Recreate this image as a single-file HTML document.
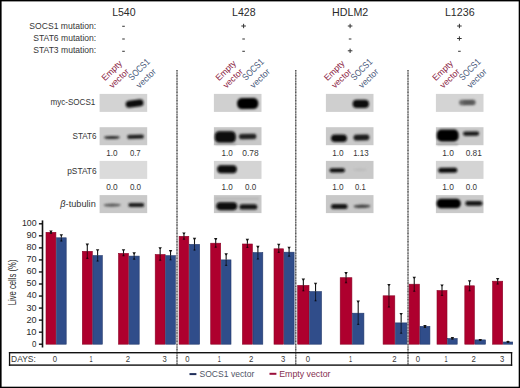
<!DOCTYPE html>
<html><head><meta charset="utf-8"><style>
html,body{margin:0;padding:0;background:#fff;}
svg{display:block;font-family:"Liberation Sans", sans-serif;}
</style></head><body>
<svg width="520" height="388" viewBox="0 0 520 388">
<defs><filter id="bl" filterUnits="userSpaceOnUse" x="0" y="0" width="520" height="388"><feGaussianBlur stdDeviation="0.8"/></filter></defs>
<text x="112.16" y="15.59" font-size="10.85" fill="#2a2a2a" textLength="23.41" lengthAdjust="spacingAndGlyphs">L540</text>
<text x="232.05" y="15.59" font-size="10.85" fill="#2a2a2a" textLength="23.52" lengthAdjust="spacingAndGlyphs">L428</text>
<text x="332.05" y="15.70" font-size="10.86" fill="#2a2a2a" textLength="36.18" lengthAdjust="spacingAndGlyphs">HDLM2</text>
<text x="444.95" y="15.69" font-size="10.70" fill="#2a2a2a" textLength="29.69" lengthAdjust="spacingAndGlyphs">L1236</text>
<text x="29.37" y="28.81" font-size="8.65" fill="#363636" textLength="66.81" lengthAdjust="spacingAndGlyphs">SOCS1 mutation:</text>
<text x="33.27" y="41.01" font-size="8.51" fill="#363636" textLength="62.94" lengthAdjust="spacingAndGlyphs">STAT6 mutation:</text>
<text x="33.27" y="53.11" font-size="8.51" fill="#363636" textLength="62.94" lengthAdjust="spacingAndGlyphs">STAT3 mutation:</text>
<text x="50.43" y="105.26" font-size="9.23" fill="#363636" textLength="44.94" lengthAdjust="spacingAndGlyphs">myc-SOCS1</text>
<text x="72.49" y="139.01" font-size="8.87" fill="#363636" textLength="24.06" lengthAdjust="spacingAndGlyphs">STAT6</text>
<text x="67.22" y="173.54" font-size="9.34" fill="#363636" textLength="29.40" lengthAdjust="spacingAndGlyphs">pSTAT6</text>
<text x="60.38" y="206.77" font-size="8.72" fill="#363636" textLength="35.38" lengthAdjust="spacingAndGlyphs"><tspan font-style="italic">β</tspan>-tubulin</text>
<text x="106.15" y="155.71" font-size="8.73" fill="#363636" textLength="11.27" lengthAdjust="spacingAndGlyphs">1.0</text>
<text x="129.89" y="155.71" font-size="8.73" fill="#363636" textLength="10.80" lengthAdjust="spacingAndGlyphs">0.7</text>
<text x="221.55" y="155.71" font-size="8.73" fill="#363636" textLength="11.27" lengthAdjust="spacingAndGlyphs">1.0</text>
<text x="242.26" y="155.71" font-size="8.73" fill="#363636" textLength="16.32" lengthAdjust="spacingAndGlyphs">0.78</text>
<text x="332.14" y="155.71" font-size="8.73" fill="#363636" textLength="11.49" lengthAdjust="spacingAndGlyphs">1.0</text>
<text x="353.17" y="155.71" font-size="8.73" fill="#363636" textLength="15.40" lengthAdjust="spacingAndGlyphs">1.13</text>
<text x="442.13" y="155.71" font-size="8.73" fill="#363636" textLength="11.71" lengthAdjust="spacingAndGlyphs">1.0</text>
<text x="465.67" y="155.71" font-size="8.73" fill="#363636" textLength="16.12" lengthAdjust="spacingAndGlyphs">0.81</text>
<text x="106.17" y="189.81" font-size="8.87" fill="#363636" textLength="11.57" lengthAdjust="spacingAndGlyphs">0.0</text>
<text x="129.88" y="189.81" font-size="8.87" fill="#363636" textLength="11.25" lengthAdjust="spacingAndGlyphs">0.0</text>
<text x="221.55" y="189.81" font-size="8.87" fill="#363636" textLength="11.27" lengthAdjust="spacingAndGlyphs">1.0</text>
<text x="245.08" y="189.81" font-size="8.87" fill="#363636" textLength="11.25" lengthAdjust="spacingAndGlyphs">0.0</text>
<text x="332.14" y="189.81" font-size="8.87" fill="#363636" textLength="11.49" lengthAdjust="spacingAndGlyphs">1.0</text>
<text x="355.09" y="189.81" font-size="8.87" fill="#363636" textLength="10.69" lengthAdjust="spacingAndGlyphs">0.1</text>
<text x="442.13" y="189.81" font-size="8.87" fill="#363636" textLength="11.71" lengthAdjust="spacingAndGlyphs">1.0</text>
<text x="465.68" y="189.81" font-size="8.87" fill="#363636" textLength="11.25" lengthAdjust="spacingAndGlyphs">0.0</text>
<text x="32.08" y="346.65" font-size="9.65" fill="#2a2a2a" textLength="4.40" lengthAdjust="spacingAndGlyphs">0</text>
<text x="26.15" y="334.61" font-size="9.65" fill="#2a2a2a" textLength="10.45" lengthAdjust="spacingAndGlyphs">10</text>
<text x="26.44" y="322.57" font-size="9.65" fill="#2a2a2a" textLength="10.14" lengthAdjust="spacingAndGlyphs">20</text>
<text x="26.54" y="310.53" font-size="9.65" fill="#2a2a2a" textLength="10.04" lengthAdjust="spacingAndGlyphs">30</text>
<text x="26.72" y="298.49" font-size="9.65" fill="#2a2a2a" textLength="9.85" lengthAdjust="spacingAndGlyphs">40</text>
<text x="26.54" y="286.45" font-size="9.65" fill="#2a2a2a" textLength="10.04" lengthAdjust="spacingAndGlyphs">50</text>
<text x="26.44" y="274.41" font-size="9.65" fill="#2a2a2a" textLength="10.14" lengthAdjust="spacingAndGlyphs">60</text>
<text x="26.44" y="262.37" font-size="9.65" fill="#2a2a2a" textLength="10.14" lengthAdjust="spacingAndGlyphs">70</text>
<text x="26.54" y="250.33" font-size="9.65" fill="#2a2a2a" textLength="10.04" lengthAdjust="spacingAndGlyphs">80</text>
<text x="26.44" y="238.29" font-size="9.65" fill="#2a2a2a" textLength="10.14" lengthAdjust="spacingAndGlyphs">90</text>
<text x="21.90" y="226.25" font-size="9.65" fill="#2a2a2a" textLength="14.64" lengthAdjust="spacingAndGlyphs">100</text>
<text x="11.12" y="361.71" font-size="8.87" fill="#363636" textLength="24.71" lengthAdjust="spacingAndGlyphs">DAYS:</text>
<text x="52.84" y="361.61" font-size="9.30" fill="#363636" textLength="4.29" lengthAdjust="spacingAndGlyphs">0</text>
<text x="89.60" y="361.70" font-size="9.57" fill="#363636" textLength="3.10" lengthAdjust="spacingAndGlyphs">1</text>
<text x="125.81" y="361.70" font-size="9.43" fill="#363636" textLength="4.35" lengthAdjust="spacingAndGlyphs">2</text>
<text x="162.39" y="361.61" font-size="9.30" fill="#363636" textLength="4.26" lengthAdjust="spacingAndGlyphs">3</text>
<text x="185.34" y="361.61" font-size="9.30" fill="#363636" textLength="4.29" lengthAdjust="spacingAndGlyphs">0</text>
<text x="217.85" y="361.70" font-size="9.57" fill="#363636" textLength="3.10" lengthAdjust="spacingAndGlyphs">1</text>
<text x="249.06" y="361.70" font-size="9.43" fill="#363636" textLength="4.35" lengthAdjust="spacingAndGlyphs">2</text>
<text x="280.89" y="361.61" font-size="9.30" fill="#363636" textLength="4.26" lengthAdjust="spacingAndGlyphs">3</text>
<text x="305.84" y="361.61" font-size="9.30" fill="#363636" textLength="4.29" lengthAdjust="spacingAndGlyphs">0</text>
<text x="349.10" y="361.70" font-size="9.57" fill="#363636" textLength="3.10" lengthAdjust="spacingAndGlyphs">1</text>
<text x="392.31" y="361.70" font-size="9.43" fill="#363636" textLength="4.35" lengthAdjust="spacingAndGlyphs">2</text>
<text x="415.64" y="361.61" font-size="9.30" fill="#363636" textLength="4.29" lengthAdjust="spacingAndGlyphs">0</text>
<text x="444.55" y="361.70" font-size="9.57" fill="#363636" textLength="3.10" lengthAdjust="spacingAndGlyphs">1</text>
<text x="471.61" y="361.70" font-size="9.43" fill="#363636" textLength="4.35" lengthAdjust="spacingAndGlyphs">2</text>
<text x="499.89" y="361.61" font-size="9.30" fill="#363636" textLength="4.26" lengthAdjust="spacingAndGlyphs">3</text>
<text x="199.47" y="377.01" font-size="8.87" fill="#4f5566" textLength="54.81" lengthAdjust="spacingAndGlyphs">SOCS1 vector</text>
<text x="279.20" y="377.24" font-size="9.33" fill="#86304f" textLength="51.34" lengthAdjust="spacingAndGlyphs">Empty vector</text>
<line x1="122.20" y1="26.30" x2="124.80" y2="26.30" stroke="#444" stroke-width="1.1" />
<line x1="122.20" y1="39.00" x2="124.80" y2="39.00" stroke="#444" stroke-width="1.1" />
<line x1="122.20" y1="51.30" x2="124.80" y2="51.30" stroke="#444" stroke-width="1.1" />
<line x1="241.30" y1="26.00" x2="245.90" y2="26.00" stroke="#333" stroke-width="1.0" />
<line x1="243.60" y1="23.80" x2="243.60" y2="28.20" stroke="#333" stroke-width="1.0" />
<line x1="242.30" y1="39.00" x2="244.90" y2="39.00" stroke="#444" stroke-width="1.1" />
<line x1="242.30" y1="51.30" x2="244.90" y2="51.30" stroke="#444" stroke-width="1.1" />
<line x1="347.80" y1="26.00" x2="352.40" y2="26.00" stroke="#333" stroke-width="1.0" />
<line x1="350.10" y1="23.80" x2="350.10" y2="28.20" stroke="#333" stroke-width="1.0" />
<line x1="348.80" y1="39.00" x2="351.40" y2="39.00" stroke="#444" stroke-width="1.1" />
<line x1="347.80" y1="50.80" x2="352.40" y2="50.80" stroke="#333" stroke-width="1.0" />
<line x1="350.10" y1="48.60" x2="350.10" y2="53.00" stroke="#333" stroke-width="1.0" />
<line x1="457.10" y1="26.00" x2="461.70" y2="26.00" stroke="#333" stroke-width="1.0" />
<line x1="459.40" y1="23.80" x2="459.40" y2="28.20" stroke="#333" stroke-width="1.0" />
<line x1="457.10" y1="38.50" x2="461.70" y2="38.50" stroke="#333" stroke-width="1.0" />
<line x1="459.40" y1="36.30" x2="459.40" y2="40.70" stroke="#333" stroke-width="1.0" />
<line x1="458.10" y1="51.30" x2="460.70" y2="51.30" stroke="#444" stroke-width="1.1" />
<text x="0" y="0" font-size="10.53" fill="#2a2a2a" transform="translate(16.29,305.32) rotate(-90)" textLength="45.82" lengthAdjust="spacingAndGlyphs">Live cells (%)</text>
<text x="0" y="0" font-size="8.7" fill="#8a1c42" transform="translate(105.00,81.15) rotate(-44)" textLength="24.62" lengthAdjust="spacingAndGlyphs">Empty</text>
<text x="0" y="0" font-size="8.7" fill="#8a1c42" transform="translate(112.50,88.75) rotate(-44)" textLength="23.67" lengthAdjust="spacingAndGlyphs">vector</text>
<text x="0" y="0" font-size="9.4" fill="#485779" transform="translate(132.00,80.95) rotate(-45)" textLength="26.07" lengthAdjust="spacingAndGlyphs">SOCS1</text>
<text x="0" y="0" font-size="8.7" fill="#485779" transform="translate(139.60,88.75) rotate(-44)" textLength="23.67" lengthAdjust="spacingAndGlyphs">vector</text>
<text x="0" y="0" font-size="8.7" fill="#8a1c42" transform="translate(219.00,81.15) rotate(-44)" textLength="24.62" lengthAdjust="spacingAndGlyphs">Empty</text>
<text x="0" y="0" font-size="8.7" fill="#8a1c42" transform="translate(226.50,88.75) rotate(-44)" textLength="23.67" lengthAdjust="spacingAndGlyphs">vector</text>
<text x="0" y="0" font-size="9.4" fill="#485779" transform="translate(246.00,80.95) rotate(-45)" textLength="26.07" lengthAdjust="spacingAndGlyphs">SOCS1</text>
<text x="0" y="0" font-size="8.7" fill="#485779" transform="translate(253.60,88.75) rotate(-44)" textLength="23.67" lengthAdjust="spacingAndGlyphs">vector</text>
<text x="0" y="0" font-size="8.7" fill="#8a1c42" transform="translate(327.50,81.15) rotate(-44)" textLength="24.62" lengthAdjust="spacingAndGlyphs">Empty</text>
<text x="0" y="0" font-size="8.7" fill="#8a1c42" transform="translate(335.00,88.75) rotate(-44)" textLength="23.67" lengthAdjust="spacingAndGlyphs">vector</text>
<text x="0" y="0" font-size="9.4" fill="#485779" transform="translate(354.50,80.95) rotate(-45)" textLength="26.07" lengthAdjust="spacingAndGlyphs">SOCS1</text>
<text x="0" y="0" font-size="8.7" fill="#485779" transform="translate(362.10,88.75) rotate(-44)" textLength="23.67" lengthAdjust="spacingAndGlyphs">vector</text>
<text x="0" y="0" font-size="8.7" fill="#8a1c42" transform="translate(435.80,81.15) rotate(-44)" textLength="24.62" lengthAdjust="spacingAndGlyphs">Empty</text>
<text x="0" y="0" font-size="8.7" fill="#8a1c42" transform="translate(443.30,88.75) rotate(-44)" textLength="23.67" lengthAdjust="spacingAndGlyphs">vector</text>
<text x="0" y="0" font-size="9.4" fill="#485779" transform="translate(462.80,80.95) rotate(-45)" textLength="26.07" lengthAdjust="spacingAndGlyphs">SOCS1</text>
<text x="0" y="0" font-size="8.7" fill="#485779" transform="translate(470.40,88.75) rotate(-44)" textLength="23.67" lengthAdjust="spacingAndGlyphs">vector</text>
<line x1="177.00" y1="70.00" x2="177.00" y2="365.00" stroke="#7a7a7a" stroke-width="1" />
<line x1="177.00" y1="70.00" x2="177.00" y2="365.00" stroke="#3a3a3a" stroke-width="1" stroke-dasharray="1.2 1.6 0.8 1.3 1.5 1.9"/>
<line x1="295.80" y1="70.00" x2="295.80" y2="365.00" stroke="#7a7a7a" stroke-width="1" />
<line x1="295.80" y1="70.00" x2="295.80" y2="365.00" stroke="#3a3a3a" stroke-width="1" stroke-dasharray="1.2 1.6 0.8 1.3 1.5 1.9"/>
<line x1="408.00" y1="70.00" x2="408.00" y2="365.00" stroke="#7a7a7a" stroke-width="1" />
<line x1="408.00" y1="70.00" x2="408.00" y2="365.00" stroke="#3a3a3a" stroke-width="1" stroke-dasharray="1.2 1.6 0.8 1.3 1.5 1.9"/>
<rect x="99.60" y="93.90" width="47.60" height="18.00" fill="#d3d3d3" />
<rect x="99.60" y="127.20" width="47.60" height="18.00" fill="#cbcbcb" />
<rect x="99.60" y="160.90" width="47.60" height="18.00" fill="#dbdbdb" />
<rect x="99.60" y="195.10" width="47.60" height="18.00" fill="#c9c9c9" />
<rect x="213.90" y="93.90" width="47.60" height="18.00" fill="#d0d0d0" />
<rect x="213.90" y="127.20" width="47.60" height="18.00" fill="#c8c8c8" />
<rect x="213.90" y="160.90" width="47.60" height="18.00" fill="#d4d4d4" />
<rect x="213.90" y="195.10" width="47.60" height="18.00" fill="#c8c8c8" />
<rect x="325.90" y="93.90" width="47.60" height="18.00" fill="#cfcfcf" />
<rect x="325.90" y="127.20" width="47.60" height="18.00" fill="#cacaca" />
<rect x="325.90" y="160.90" width="47.60" height="18.00" fill="#c8c8c8" />
<rect x="325.90" y="195.10" width="47.60" height="18.00" fill="#c8c8c8" />
<rect x="435.90" y="93.90" width="47.60" height="18.00" fill="#d4d4d4" />
<rect x="435.90" y="127.20" width="47.60" height="18.00" fill="#cbcbcb" />
<rect x="435.90" y="160.90" width="47.60" height="18.00" fill="#d4d4d4" />
<rect x="435.90" y="195.10" width="47.60" height="18.00" fill="#cacaca" />
<rect x="125.60" y="100.10" width="18.00" height="7.00" rx="3.50" fill="#101010" transform="rotate(-7.59 134.60 103.60)" filter="url(#bl)"/>
<ellipse cx="111.95" cy="137.50" rx="7.95" ry="1.60" fill="#2a2a2a" transform="rotate(-0.72 111.95 137.50)" filter="url(#bl)"/>
<rect x="127.20" y="134.85" width="16.70" height="3.80" rx="1.90" fill="#1e1e1e" transform="rotate(-1.71 135.55 136.75)" filter="url(#bl)"/>
<ellipse cx="112.20" cy="205.10" rx="8.80" ry="1.60" fill="#5a5a5a" transform="rotate(-0.65 112.20 205.10)" filter="url(#bl)"/>
<rect x="128.30" y="203.00" width="15.90" height="4.00" rx="2.00" fill="#1e1e1e" transform="rotate(0.00 136.25 205.00)" filter="url(#bl)"/>
<rect x="237.10" y="98.10" width="21.20" height="11.00" rx="5.00" fill="#060606" transform="rotate(-0.54 247.70 103.60)" filter="url(#bl)"/>
<rect x="214.80" y="131.25" width="21.00" height="11.50" rx="4.50" fill="#070707" transform="rotate(0.00 225.30 137.00)" filter="url(#bl)"/>
<rect x="238.90" y="133.75" width="17.50" height="5.40" rx="2.70" fill="#222" transform="rotate(-0.98 247.65 136.45)" filter="url(#bl)"/>
<rect x="215.00" y="143.60" width="21.00" height="1.20" rx="0.00" fill="#999" transform="rotate(0.00 225.50 144.20)" filter="url(#bl)"/>
<rect x="217.20" y="165.35" width="19.60" height="7.80" rx="3.60" fill="#080808" transform="rotate(0.29 227.00 169.25)" filter="url(#bl)"/>
<rect x="216.30" y="202.25" width="20.90" height="7.90" rx="3.80" fill="#080808" transform="rotate(0.00 226.75 206.20)" filter="url(#bl)"/>
<rect x="239.50" y="204.30" width="17.80" height="5.20" rx="2.60" fill="#151515" transform="rotate(0.00 248.40 206.90)" filter="url(#bl)"/>
<rect x="215.00" y="197.70" width="44.00" height="2.00" rx="0.00" fill="#b4b4b4" transform="rotate(0.00 237.00 198.70)" filter="url(#bl)"/>
<rect x="352.60" y="99.80" width="16.40" height="8.20" rx="4.10" fill="#0e0e0e" transform="rotate(0.00 360.80 103.90)" filter="url(#bl)"/>
<rect x="331.00" y="134.40" width="16.00" height="7.60" rx="3.80" fill="#101010" transform="rotate(0.00 339.00 138.20)" filter="url(#bl)"/>
<rect x="353.50" y="134.40" width="15.90" height="6.00" rx="3.00" fill="#1e1e1e" transform="rotate(-1.44 361.45 137.40)" filter="url(#bl)"/>
<rect x="329.50" y="168.20" width="15.50" height="4.30" rx="2.15" fill="#0e0e0e" transform="rotate(-0.37 337.25 170.35)" filter="url(#bl)"/>
<ellipse cx="359.95" cy="169.70" rx="6.95" ry="1.50" fill="#bcbcbc" transform="rotate(0.00 359.95 169.70)" filter="url(#bl)"/>
<rect x="331.00" y="204.10" width="16.60" height="5.00" rx="2.50" fill="#141414" transform="rotate(0.00 339.30 206.60)" filter="url(#bl)"/>
<ellipse cx="362.00" cy="206.30" rx="8.50" ry="1.80" fill="#444" transform="rotate(-1.35 362.00 206.30)" filter="url(#bl)"/>
<rect x="459.10" y="99.80" width="16.60" height="5.40" rx="2.70" fill="#6a6a6a" transform="rotate(-0.69 467.40 102.50)" filter="url(#bl)"/>
<rect x="463.00" y="101.00" width="11.00" height="3.00" rx="1.50" fill="#555" transform="rotate(-1.04 468.50 102.50)" filter="url(#bl)"/>
<rect x="436.80" y="129.60" width="21.80" height="11.80" rx="4.50" fill="#060606" transform="rotate(0.00 447.70 135.50)" filter="url(#bl)"/>
<rect x="437.00" y="143.75" width="21.00" height="1.30" rx="0.00" fill="#8a8a8a" transform="rotate(0.00 447.50 144.40)" filter="url(#bl)"/>
<rect x="463.00" y="131.50" width="16.20" height="4.20" rx="2.10" fill="#151515" transform="rotate(-0.71 471.10 133.60)" filter="url(#bl)"/>
<rect x="438.20" y="167.70" width="19.10" height="5.00" rx="2.50" fill="#0c0c0c" transform="rotate(-0.60 447.75 170.20)" filter="url(#bl)"/>
<rect x="436.60" y="198.70" width="24.20" height="9.60" rx="4.50" fill="#060606" transform="rotate(0.00 448.70 203.50)" filter="url(#bl)"/>
<rect x="465.30" y="200.95" width="17.10" height="4.90" rx="2.45" fill="#121212" transform="rotate(0.00 473.85 203.40)" filter="url(#bl)"/>
<line x1="42.50" y1="220.40" x2="42.50" y2="347.50" stroke="#111" stroke-width="1.6" />
<line x1="38.90" y1="344.20" x2="42.50" y2="344.20" stroke="#111" stroke-width="1.4" />
<line x1="38.90" y1="332.16" x2="42.50" y2="332.16" stroke="#111" stroke-width="1.4" />
<line x1="38.90" y1="320.12" x2="42.50" y2="320.12" stroke="#111" stroke-width="1.4" />
<line x1="38.90" y1="308.08" x2="42.50" y2="308.08" stroke="#111" stroke-width="1.4" />
<line x1="38.90" y1="296.04" x2="42.50" y2="296.04" stroke="#111" stroke-width="1.4" />
<line x1="38.90" y1="284.00" x2="42.50" y2="284.00" stroke="#111" stroke-width="1.4" />
<line x1="38.90" y1="271.96" x2="42.50" y2="271.96" stroke="#111" stroke-width="1.4" />
<line x1="38.90" y1="259.92" x2="42.50" y2="259.92" stroke="#111" stroke-width="1.4" />
<line x1="38.90" y1="247.88" x2="42.50" y2="247.88" stroke="#111" stroke-width="1.4" />
<line x1="38.90" y1="235.84" x2="42.50" y2="235.84" stroke="#111" stroke-width="1.4" />
<line x1="38.90" y1="223.80" x2="42.50" y2="223.80" stroke="#111" stroke-width="1.4" />
<rect x="46.00" y="232.30" width="9.90" height="111.90" fill="#ae002e" stroke="#8a0427" stroke-width="0.6"/>
<rect x="56.50" y="237.80" width="9.70" height="106.40" fill="#304d8a" stroke="#22386a" stroke-width="0.6"/>
<rect x="82.30" y="251.30" width="10.00" height="92.90" fill="#ae002e" stroke="#8a0427" stroke-width="0.6"/>
<rect x="92.90" y="255.60" width="9.40" height="88.60" fill="#304d8a" stroke="#22386a" stroke-width="0.6"/>
<rect x="118.50" y="253.40" width="10.00" height="90.80" fill="#ae002e" stroke="#8a0427" stroke-width="0.6"/>
<rect x="129.10" y="256.10" width="10.10" height="88.10" fill="#304d8a" stroke="#22386a" stroke-width="0.6"/>
<rect x="155.20" y="254.50" width="9.90" height="89.70" fill="#ae002e" stroke="#8a0427" stroke-width="0.6"/>
<rect x="165.70" y="255.70" width="9.70" height="88.50" fill="#304d8a" stroke="#22386a" stroke-width="0.6"/>
<rect x="179.10" y="236.30" width="9.70" height="107.90" fill="#ae002e" stroke="#8a0427" stroke-width="0.6"/>
<rect x="189.40" y="244.40" width="10.20" height="99.80" fill="#304d8a" stroke="#22386a" stroke-width="0.6"/>
<rect x="210.70" y="243.20" width="10.00" height="101.00" fill="#ae002e" stroke="#8a0427" stroke-width="0.6"/>
<rect x="221.30" y="259.90" width="9.70" height="84.30" fill="#304d8a" stroke="#22386a" stroke-width="0.6"/>
<rect x="242.40" y="244.00" width="10.00" height="100.20" fill="#ae002e" stroke="#8a0427" stroke-width="0.6"/>
<rect x="253.00" y="252.60" width="9.80" height="91.60" fill="#304d8a" stroke="#22386a" stroke-width="0.6"/>
<rect x="274.00" y="248.80" width="9.50" height="95.40" fill="#ae002e" stroke="#8a0427" stroke-width="0.6"/>
<rect x="284.10" y="252.20" width="10.00" height="92.00" fill="#304d8a" stroke="#22386a" stroke-width="0.6"/>
<rect x="297.70" y="285.40" width="11.30" height="58.80" fill="#ae002e" stroke="#8a0427" stroke-width="0.6"/>
<rect x="309.60" y="291.60" width="11.90" height="52.60" fill="#304d8a" stroke="#22386a" stroke-width="0.6"/>
<rect x="340.20" y="277.70" width="11.70" height="66.50" fill="#ae002e" stroke="#8a0427" stroke-width="0.6"/>
<rect x="352.50" y="313.20" width="11.40" height="31.00" fill="#304d8a" stroke="#22386a" stroke-width="0.6"/>
<rect x="383.10" y="295.80" width="11.70" height="48.40" fill="#ae002e" stroke="#8a0427" stroke-width="0.6"/>
<rect x="395.40" y="322.90" width="11.50" height="21.30" fill="#304d8a" stroke="#22386a" stroke-width="0.6"/>
<rect x="409.10" y="284.20" width="10.30" height="60.00" fill="#ae002e" stroke="#8a0427" stroke-width="0.6"/>
<rect x="420.00" y="326.40" width="9.90" height="17.80" fill="#304d8a" stroke="#22386a" stroke-width="0.6"/>
<rect x="437.00" y="290.50" width="10.00" height="53.70" fill="#ae002e" stroke="#8a0427" stroke-width="0.6"/>
<rect x="447.60" y="338.50" width="9.60" height="5.70" fill="#304d8a" stroke="#22386a" stroke-width="0.6"/>
<rect x="464.80" y="285.80" width="9.60" height="58.40" fill="#ae002e" stroke="#8a0427" stroke-width="0.6"/>
<rect x="475.00" y="339.90" width="10.50" height="4.30" fill="#304d8a" stroke="#22386a" stroke-width="0.6"/>
<rect x="492.60" y="281.20" width="10.10" height="63.00" fill="#ae002e" stroke="#8a0427" stroke-width="0.6"/>
<rect x="503.30" y="342.00" width="9.40" height="2.20" fill="#304d8a" stroke="#22386a" stroke-width="0.6"/>
<line x1="50.95" y1="231.40" x2="50.95" y2="232.00" stroke="#151515" stroke-width="1.1" />
<line x1="50.95" y1="232.00" x2="50.95" y2="233.70" stroke="rgba(0,0,0,0.6)" stroke-width="1.1" />
<polygon points="49.25,230.40 52.65,230.40 51.55,232.30 50.35,232.30" fill="#151515"/>
<polygon points="49.45,233.70 52.45,233.70 51.45,232.10 50.45,232.10" fill="#151515"/>
<line x1="61.35" y1="235.20" x2="61.35" y2="237.50" stroke="#151515" stroke-width="1.1" />
<line x1="61.35" y1="237.50" x2="61.35" y2="241.40" stroke="rgba(0,0,0,0.6)" stroke-width="1.1" />
<polygon points="59.65,234.20 63.05,234.20 61.95,236.10 60.75,236.10" fill="#151515"/>
<polygon points="59.85,241.40 62.85,241.40 61.85,239.80 60.85,239.80" fill="rgba(0,0,0,0.5)"/>
<line x1="87.30" y1="244.60" x2="87.30" y2="251.00" stroke="#151515" stroke-width="1.1" />
<line x1="87.30" y1="251.00" x2="87.30" y2="258.90" stroke="rgba(0,0,0,0.6)" stroke-width="1.1" />
<polygon points="85.60,243.60 89.00,243.60 87.90,245.50 86.70,245.50" fill="#151515"/>
<polygon points="85.80,258.90 88.80,258.90 87.80,257.30 86.80,257.30" fill="rgba(0,0,0,0.5)"/>
<line x1="97.60" y1="250.20" x2="97.60" y2="255.30" stroke="#151515" stroke-width="1.1" />
<line x1="97.60" y1="255.30" x2="97.60" y2="261.60" stroke="rgba(0,0,0,0.6)" stroke-width="1.1" />
<polygon points="95.90,249.20 99.30,249.20 98.20,251.10 97.00,251.10" fill="#151515"/>
<polygon points="96.10,261.60 99.10,261.60 98.10,260.00 97.10,260.00" fill="rgba(0,0,0,0.5)"/>
<line x1="123.50" y1="250.20" x2="123.50" y2="253.10" stroke="#151515" stroke-width="1.1" />
<line x1="123.50" y1="253.10" x2="123.50" y2="256.20" stroke="rgba(0,0,0,0.6)" stroke-width="1.1" />
<polygon points="121.80,249.20 125.20,249.20 124.10,251.10 122.90,251.10" fill="#151515"/>
<polygon points="122.00,256.20 125.00,256.20 124.00,254.60 123.00,254.60" fill="rgba(0,0,0,0.5)"/>
<line x1="134.15" y1="253.30" x2="134.15" y2="255.80" stroke="#151515" stroke-width="1.1" />
<line x1="134.15" y1="255.80" x2="134.15" y2="259.70" stroke="rgba(0,0,0,0.6)" stroke-width="1.1" />
<polygon points="132.45,252.30 135.85,252.30 134.75,254.20 133.55,254.20" fill="#151515"/>
<polygon points="132.65,259.70 135.65,259.70 134.65,258.10 133.65,258.10" fill="rgba(0,0,0,0.5)"/>
<line x1="160.15" y1="248.20" x2="160.15" y2="254.20" stroke="#151515" stroke-width="1.1" />
<line x1="160.15" y1="254.20" x2="160.15" y2="260.80" stroke="rgba(0,0,0,0.6)" stroke-width="1.1" />
<polygon points="158.45,247.20 161.85,247.20 160.75,249.10 159.55,249.10" fill="#151515"/>
<polygon points="158.65,260.80 161.65,260.80 160.65,259.20 159.65,259.20" fill="rgba(0,0,0,0.5)"/>
<line x1="170.55" y1="251.00" x2="170.55" y2="255.40" stroke="#151515" stroke-width="1.1" />
<line x1="170.55" y1="255.40" x2="170.55" y2="260.30" stroke="rgba(0,0,0,0.6)" stroke-width="1.1" />
<polygon points="168.85,250.00 172.25,250.00 171.15,251.90 169.95,251.90" fill="#151515"/>
<polygon points="169.05,260.30 172.05,260.30 171.05,258.70 170.05,258.70" fill="rgba(0,0,0,0.5)"/>
<line x1="183.95" y1="233.40" x2="183.95" y2="236.00" stroke="#151515" stroke-width="1.1" />
<line x1="183.95" y1="236.00" x2="183.95" y2="239.80" stroke="rgba(0,0,0,0.6)" stroke-width="1.1" />
<polygon points="182.25,232.40 185.65,232.40 184.55,234.30 183.35,234.30" fill="#151515"/>
<polygon points="182.45,239.80 185.45,239.80 184.45,238.20 183.45,238.20" fill="rgba(0,0,0,0.5)"/>
<line x1="194.50" y1="238.80" x2="194.50" y2="244.10" stroke="#151515" stroke-width="1.1" />
<line x1="194.50" y1="244.10" x2="194.50" y2="250.60" stroke="rgba(0,0,0,0.6)" stroke-width="1.1" />
<polygon points="192.80,237.80 196.20,237.80 195.10,239.70 193.90,239.70" fill="#151515"/>
<polygon points="193.00,250.60 196.00,250.60 195.00,249.00 194.00,249.00" fill="rgba(0,0,0,0.5)"/>
<line x1="215.70" y1="239.10" x2="215.70" y2="242.90" stroke="#151515" stroke-width="1.1" />
<line x1="215.70" y1="242.90" x2="215.70" y2="247.70" stroke="rgba(0,0,0,0.6)" stroke-width="1.1" />
<polygon points="214.00,238.10 217.40,238.10 216.30,240.00 215.10,240.00" fill="#151515"/>
<polygon points="214.20,247.70 217.20,247.70 216.20,246.10 215.20,246.10" fill="rgba(0,0,0,0.5)"/>
<line x1="226.15" y1="254.30" x2="226.15" y2="259.60" stroke="#151515" stroke-width="1.1" />
<line x1="226.15" y1="259.60" x2="226.15" y2="266.00" stroke="rgba(0,0,0,0.6)" stroke-width="1.1" />
<polygon points="224.45,253.30 227.85,253.30 226.75,255.20 225.55,255.20" fill="#151515"/>
<polygon points="224.65,266.00 227.65,266.00 226.65,264.40 225.65,264.40" fill="rgba(0,0,0,0.5)"/>
<line x1="247.40" y1="239.80" x2="247.40" y2="243.70" stroke="#151515" stroke-width="1.1" />
<line x1="247.40" y1="243.70" x2="247.40" y2="248.00" stroke="rgba(0,0,0,0.6)" stroke-width="1.1" />
<polygon points="245.70,238.80 249.10,238.80 248.00,240.70 246.80,240.70" fill="#151515"/>
<polygon points="245.90,248.00 248.90,248.00 247.90,246.40 246.90,246.40" fill="rgba(0,0,0,0.5)"/>
<line x1="257.90" y1="246.80" x2="257.90" y2="252.30" stroke="#151515" stroke-width="1.1" />
<line x1="257.90" y1="252.30" x2="257.90" y2="259.60" stroke="rgba(0,0,0,0.6)" stroke-width="1.1" />
<polygon points="256.20,245.80 259.60,245.80 258.50,247.70 257.30,247.70" fill="#151515"/>
<polygon points="256.40,259.60 259.40,259.60 258.40,258.00 257.40,258.00" fill="rgba(0,0,0,0.5)"/>
<line x1="278.75" y1="244.70" x2="278.75" y2="248.50" stroke="#151515" stroke-width="1.1" />
<line x1="278.75" y1="248.50" x2="278.75" y2="252.90" stroke="rgba(0,0,0,0.6)" stroke-width="1.1" />
<polygon points="277.05,243.70 280.45,243.70 279.35,245.60 278.15,245.60" fill="#151515"/>
<polygon points="277.25,252.90 280.25,252.90 279.25,251.30 278.25,251.30" fill="rgba(0,0,0,0.5)"/>
<line x1="289.10" y1="247.70" x2="289.10" y2="251.90" stroke="#151515" stroke-width="1.1" />
<line x1="289.10" y1="251.90" x2="289.10" y2="256.70" stroke="rgba(0,0,0,0.6)" stroke-width="1.1" />
<polygon points="287.40,246.70 290.80,246.70 289.70,248.60 288.50,248.60" fill="#151515"/>
<polygon points="287.60,256.70 290.60,256.70 289.60,255.10 288.60,255.10" fill="rgba(0,0,0,0.5)"/>
<line x1="303.35" y1="279.60" x2="303.35" y2="285.10" stroke="#151515" stroke-width="1.1" />
<line x1="303.35" y1="285.10" x2="303.35" y2="291.30" stroke="rgba(0,0,0,0.6)" stroke-width="1.1" />
<polygon points="301.65,278.60 305.05,278.60 303.95,280.50 302.75,280.50" fill="#151515"/>
<polygon points="301.85,291.30 304.85,291.30 303.85,289.70 302.85,289.70" fill="rgba(0,0,0,0.5)"/>
<line x1="315.55" y1="283.70" x2="315.55" y2="291.30" stroke="#151515" stroke-width="1.1" />
<line x1="315.55" y1="291.30" x2="315.55" y2="301.30" stroke="rgba(0,0,0,0.6)" stroke-width="1.1" />
<polygon points="313.85,282.70 317.25,282.70 316.15,284.60 314.95,284.60" fill="#151515"/>
<polygon points="314.05,301.30 317.05,301.30 316.05,299.70 315.05,299.70" fill="rgba(0,0,0,0.5)"/>
<line x1="346.05" y1="273.10" x2="346.05" y2="277.40" stroke="#151515" stroke-width="1.1" />
<line x1="346.05" y1="277.40" x2="346.05" y2="283.20" stroke="rgba(0,0,0,0.6)" stroke-width="1.1" />
<polygon points="344.35,272.10 347.75,272.10 346.65,274.00 345.45,274.00" fill="#151515"/>
<polygon points="344.55,283.20 347.55,283.20 346.55,281.60 345.55,281.60" fill="rgba(0,0,0,0.5)"/>
<line x1="358.20" y1="301.60" x2="358.20" y2="312.90" stroke="#151515" stroke-width="1.1" />
<line x1="358.20" y1="312.90" x2="358.20" y2="325.00" stroke="rgba(0,0,0,0.6)" stroke-width="1.1" />
<polygon points="356.50,300.60 359.90,300.60 358.80,302.50 357.60,302.50" fill="#151515"/>
<polygon points="356.70,325.00 359.70,325.00 358.70,323.40 357.70,323.40" fill="rgba(0,0,0,0.5)"/>
<line x1="388.95" y1="284.90" x2="388.95" y2="295.50" stroke="#151515" stroke-width="1.1" />
<line x1="388.95" y1="295.50" x2="388.95" y2="307.60" stroke="rgba(0,0,0,0.6)" stroke-width="1.1" />
<polygon points="387.25,283.90 390.65,283.90 389.55,285.80 388.35,285.80" fill="#151515"/>
<polygon points="387.45,307.60 390.45,307.60 389.45,306.00 388.45,306.00" fill="rgba(0,0,0,0.5)"/>
<line x1="401.15" y1="313.90" x2="401.15" y2="322.60" stroke="#151515" stroke-width="1.1" />
<line x1="401.15" y1="322.60" x2="401.15" y2="333.80" stroke="rgba(0,0,0,0.6)" stroke-width="1.1" />
<polygon points="399.45,312.90 402.85,312.90 401.75,314.80 400.55,314.80" fill="#151515"/>
<polygon points="399.65,333.80 402.65,333.80 401.65,332.20 400.65,332.20" fill="rgba(0,0,0,0.5)"/>
<line x1="414.25" y1="277.70" x2="414.25" y2="283.90" stroke="#151515" stroke-width="1.1" />
<line x1="414.25" y1="283.90" x2="414.25" y2="291.80" stroke="rgba(0,0,0,0.6)" stroke-width="1.1" />
<polygon points="412.55,276.70 415.95,276.70 414.85,278.60 413.65,278.60" fill="#151515"/>
<polygon points="412.75,291.80 415.75,291.80 414.75,290.20 413.75,290.20" fill="rgba(0,0,0,0.5)"/>
<line x1="424.95" y1="326.00" x2="424.95" y2="326.10" stroke="#151515" stroke-width="1.1" />
<line x1="424.95" y1="326.10" x2="424.95" y2="328.00" stroke="rgba(0,0,0,0.6)" stroke-width="1.1" />
<polygon points="423.25,325.00 426.65,325.00 425.55,326.90 424.35,326.90" fill="#151515"/>
<polygon points="423.45,328.00 426.45,328.00 425.45,326.40 424.45,326.40" fill="#151515"/>
<line x1="442.00" y1="285.40" x2="442.00" y2="290.20" stroke="#151515" stroke-width="1.1" />
<line x1="442.00" y1="290.20" x2="442.00" y2="296.00" stroke="rgba(0,0,0,0.6)" stroke-width="1.1" />
<polygon points="440.30,284.40 443.70,284.40 442.60,286.30 441.40,286.30" fill="#151515"/>
<polygon points="440.50,296.00 443.50,296.00 442.50,294.40 441.50,294.40" fill="rgba(0,0,0,0.5)"/>
<line x1="452.40" y1="338.00" x2="452.40" y2="338.20" stroke="#151515" stroke-width="1.1" />
<line x1="452.40" y1="338.20" x2="452.40" y2="339.50" stroke="rgba(0,0,0,0.6)" stroke-width="1.1" />
<polygon points="450.70,337.00 454.10,337.00 453.00,338.90 451.80,338.90" fill="#151515"/>
<polygon points="450.90,339.50 453.90,339.50 452.90,337.90 451.90,337.90" fill="#151515"/>
<line x1="469.60" y1="281.20" x2="469.60" y2="285.50" stroke="#151515" stroke-width="1.1" />
<line x1="469.60" y1="285.50" x2="469.60" y2="291.30" stroke="rgba(0,0,0,0.6)" stroke-width="1.1" />
<polygon points="467.90,280.20 471.30,280.20 470.20,282.10 469.00,282.10" fill="#151515"/>
<polygon points="468.10,291.30 471.10,291.30 470.10,289.70 469.10,289.70" fill="rgba(0,0,0,0.5)"/>
<line x1="480.25" y1="340.00" x2="480.25" y2="339.60" stroke="#151515" stroke-width="1.1" />
<line x1="480.25" y1="339.60" x2="480.25" y2="340.50" stroke="rgba(0,0,0,0.6)" stroke-width="1.1" />
<polygon points="478.55,339.00 481.95,339.00 480.85,340.90 479.65,340.90" fill="#151515"/>
<polygon points="478.75,340.50 481.75,340.50 480.75,338.90 479.75,338.90" fill="#151515"/>
<line x1="497.65" y1="278.90" x2="497.65" y2="280.90" stroke="#151515" stroke-width="1.1" />
<line x1="497.65" y1="280.90" x2="497.65" y2="284.40" stroke="rgba(0,0,0,0.6)" stroke-width="1.1" />
<polygon points="495.95,277.90 499.35,277.90 498.25,279.80 497.05,279.80" fill="#151515"/>
<polygon points="496.15,284.40 499.15,284.40 498.15,282.80 497.15,282.80" fill="rgba(0,0,0,0.5)"/>
<line x1="508.00" y1="342.00" x2="508.00" y2="341.70" stroke="#151515" stroke-width="1.1" />
<line x1="508.00" y1="341.70" x2="508.00" y2="342.30" stroke="rgba(0,0,0,0.6)" stroke-width="1.1" />
<polygon points="506.30,341.00 509.70,341.00 508.60,342.90 507.40,342.90" fill="#151515"/>
<polygon points="506.50,342.30 509.50,342.30 508.50,340.70 507.50,340.70" fill="#151515"/>
<rect x="8.90" y="352.00" width="503.30" height="1.40" fill="#111" />
<rect x="8.90" y="364.40" width="503.30" height="1.40" fill="#111" />
<rect x="8.90" y="352.00" width="1.30" height="13.80" fill="#111" />
<rect x="510.90" y="352.00" width="1.30" height="13.80" fill="#111" />
<line x1="189.50" y1="374.10" x2="196.40" y2="374.10" stroke="#1f2d5a" stroke-width="2" />
<line x1="269.50" y1="373.80" x2="276.40" y2="373.80" stroke="#9a0f3a" stroke-width="2" />
<rect x="0.00" y="0.00" width="520.00" height="1.40" fill="#000" />
<rect x="0.00" y="0.00" width="1.60" height="388.00" fill="#000" />
<rect x="518.70" y="0.00" width="1.30" height="388.00" fill="#000" />
<rect x="0.00" y="386.70" width="520.00" height="1.30" fill="#000" />
</svg>
</body></html>
